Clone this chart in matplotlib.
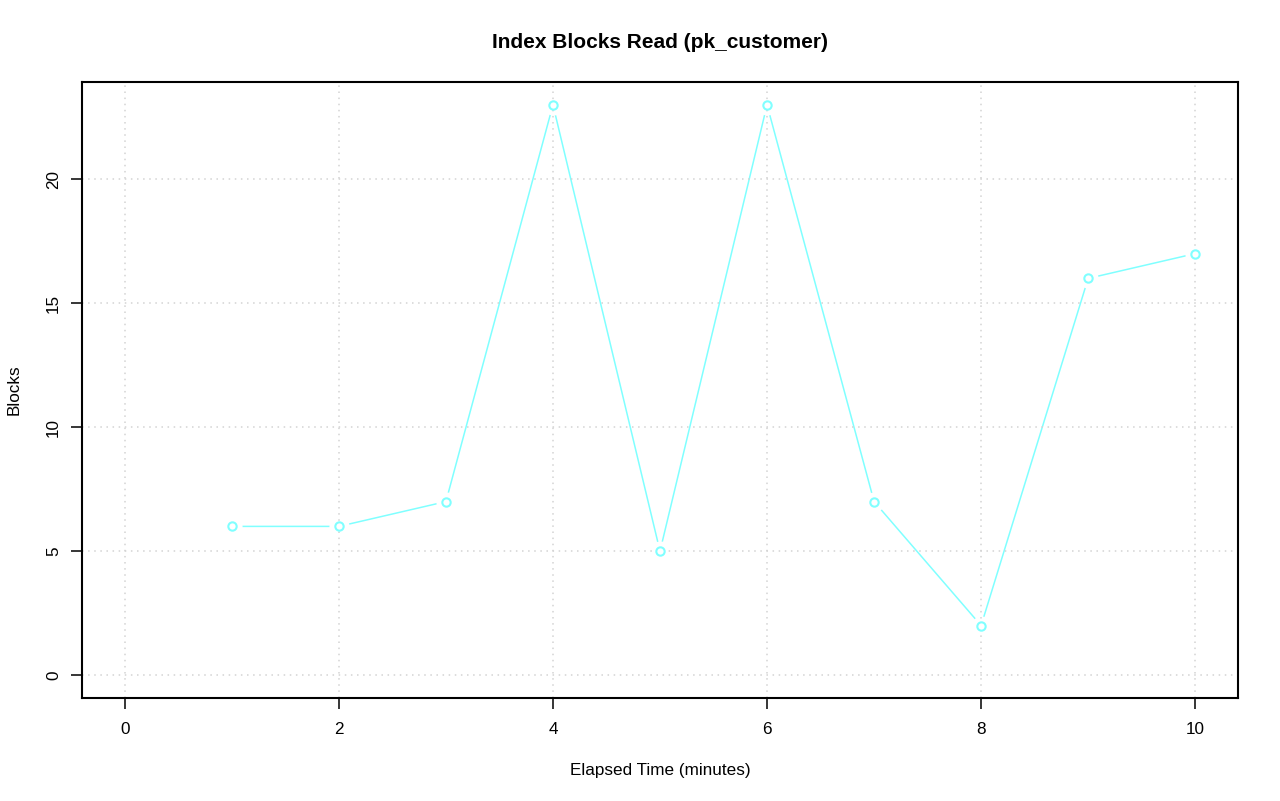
import matplotlib
matplotlib.use("Agg")
import matplotlib.pyplot as plt

minutes = [1, 2, 3, 4, 5, 6, 7, 8, 9, 10]
blocks = [6, 6, 7, 23, 5, 23, 7, 2, 16, 17]
x_ticks = [0, 2, 4, 6, 8, 10]
y_ticks = [0, 5, 10, 15, 20]
title = "Index Blocks Read (pk_customer)"
x_label = "Elapsed Time (minutes)"
y_label = "Blocks"
line_color = "#80FFFF"

plt.rcParams['font.family'] = ['Liberation Sans', 'DejaVu Sans']

fig = plt.figure(figsize=(12.8, 8.01), dpi=100)
ax = fig.add_axes([82/1280, 1-698/801, (1238-82)/1280, (698-82)/801])

ax.plot(minutes, blocks, color=line_color, lw=1.1, zorder=2)
ax.plot(minutes, blocks, ls='none', marker='o', ms=14.5, mfc='white', mec='none', zorder=2.2)
ax.plot(minutes, blocks, ls='none', marker='o', ms=6, mfc='white', mec=line_color, mew=1.5, zorder=3)

ax.set_xlim(-0.4, 10.4)
ax.set_ylim(-0.92, 23.92)
ax.set_xticks(x_ticks)
ax.set_yticks(y_ticks)
ax.set_xticklabels([str(v) for v in x_ticks], fontsize=12.3)
ax.set_yticklabels([str(v) for v in y_ticks], fontsize=12.3, rotation=90, va='center')
ax.tick_params(axis='both', direction='out', length=8, width=1.1, colors='black')
ax.tick_params(axis='x', pad=9)
ax.tick_params(axis='y', pad=7)

for v in x_ticks:
    ax.axvline(v, color='#D3D3D3', lw=1.1, ls=(0, (1, 3)), zorder=2.5)
for v in y_ticks:
    ax.axhline(v, color='#D3D3D3', lw=1.1, ls=(0, (1, 3)), zorder=2.5)

for s in ax.spines.values():
    s.set_linewidth(1.5)
    s.set_color('black')

fig.text(660/1280, 1-43/801, title, ha='center', va='center', fontsize=15, fontweight='bold')
fig.text(660/1280, 1-770/801, x_label, ha='center', va='center', fontsize=12.3)
fig.text(14/1280, 1-390/801, y_label, ha='center', va='center', fontsize=12.3, rotation=90)

fig.savefig("out.png", dpi=100, facecolor='white')
